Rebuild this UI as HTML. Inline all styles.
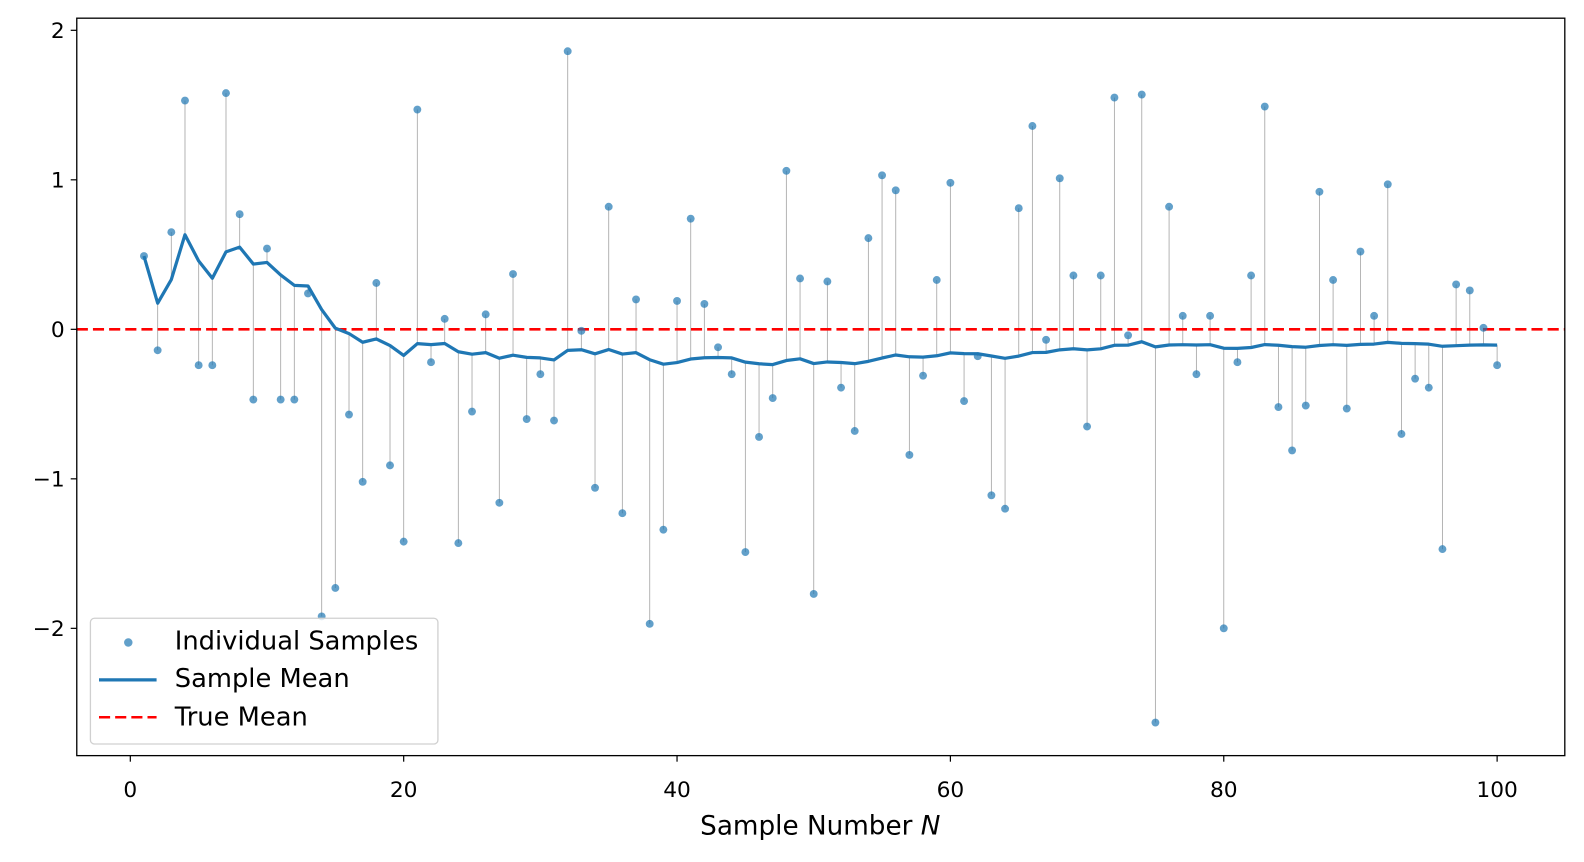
<!DOCTYPE html>
<html><head><meta charset="utf-8"><style>
html,body{margin:0;padding:0;background:#fff;width:1584px;height:862px;overflow:hidden;}
svg{position:absolute;left:0;top:0;display:block;font-family:"DejaVu Sans","Liberation Sans",sans-serif;}
</style></head><body>
<svg id="s" width="1584" height="862" viewBox="0 0 1568 853.3" preserveAspectRatio="none" xmlns="http://www.w3.org/2000/svg">
<rect width="1568" height="853.3" fill="#fff"/>
<g id="stems"></g>
<line x1="76" x2="1549" y1="326" y2="326" stroke="#ff0000" stroke-width="2.5" stroke-dasharray="11,5"/>
<polyline id="mean" fill="none" stroke="#1f77b4" stroke-width="3.2" stroke-linejoin="round"/>
<g id="pts" fill="#1f77b4" fill-opacity="0.7"></g>
<rect x="76" y="18" width="1473" height="730" fill="none" stroke="#000" stroke-width="1.3"/>
<g id="ticks" font-size="21.5" fill="#000"></g>
<text x="812" y="826" font-size="26" text-anchor="middle">Sample Number <tspan font-style="italic">N</tspan></text>
<rect x="89.5" y="612" width="344" height="124.5" rx="4" fill="#fff" fill-opacity="0.8" stroke="#d0d0d0" stroke-width="1.3"/>
<circle cx="127" cy="636" r="4.2" fill="#1f77b4" fill-opacity="0.7"/>
<line x1="98" x2="155" y1="673" y2="673" stroke="#1f77b4" stroke-width="3.2"/>
<line x1="98" x2="155" y1="710" y2="710" stroke="#ff0000" stroke-width="2.5" stroke-dasharray="11,5"/>
<text x="173" y="643" font-size="25.5">Individual Samples</text>
<text x="173" y="680" font-size="25.5">Sample Mean</text>
<text x="173" y="718" font-size="25.5">True Mean</text>
</svg>
<script>
var v=[0.49,-0.14,0.65,1.53,-0.24,-0.24,1.58,0.77,-0.47,0.54,-0.47,-0.47,0.24,-1.92,-1.73,-0.57,-1.02,0.31,-0.91,-1.42,1.47,-0.22,0.07,-1.43,-0.55,0.10,-1.16,0.37,-0.60,-0.30,-0.61,1.86,-0.01,-1.06,0.82,-1.23,0.20,-1.97,-1.34,0.19,0.74,0.17,-0.12,-0.30,-1.49,-0.72,-0.46,1.06,0.34,-1.77,0.32,-0.39,-0.68,0.61,1.03,0.93,-0.84,-0.31,0.33,0.98,-0.48,-0.18,-1.11,-1.20,0.81,1.36,-0.07,1.01,0.36,-0.65,0.36,1.55,-0.04,1.57,-2.63,0.82,0.09,-0.30,0.09,-2.00,-0.22,0.36,1.49,-0.52,-0.81,-0.51,0.92,0.33,-0.53,0.52,0.09,0.97,-0.70,-0.33,-0.39,-1.47,0.30,0.26,0.01,-0.24];
function X(n){return 129+n*13.53;}function Y(y){return 326-y*148;}
var NS="http://www.w3.org/2000/svg";
function el(t,a,p){var e=document.createElementNS(NS,t);for(var k in a)e.setAttribute(k,a[k]);document.getElementById(p).appendChild(e);return e;}
var sum=0,pts=[];
for(var i=0;i<v.length;i++){sum+=v[i];var m=sum/(i+1),x=X(i+1);
pts.push(x.toFixed(1)+","+Y(m).toFixed(1));
el("line",{x1:x,x2:x,y1:Y(v[i]),y2:Y(m),stroke:"#999","stroke-width":0.9,"stroke-opacity":0.8},"stems");
el("circle",{cx:x,cy:Y(v[i]),r:3.9},"pts");}
document.getElementById("mean").setAttribute("points",pts.join(" "));
for(var t=0;t<=100;t+=20){var x=X(t);el("line",{x1:x,x2:x,y1:748,y2:754,stroke:"#000","stroke-width":1.2},"ticks");
var tx=el("text",{x:x,y:789,"text-anchor":"middle"},"ticks");tx.textContent=t;}
for(var t=-2;t<=2;t++){var y=Y(t);el("line",{x1:70,x2:76,y1:y,y2:y,stroke:"#000","stroke-width":1.2},"ticks");
var ty=el("text",{x:64,y:y+7.5,"text-anchor":"end"},"ticks");ty.textContent=(t<0?"\u2212"+(-t):""+t);}
</script>
</body></html>
